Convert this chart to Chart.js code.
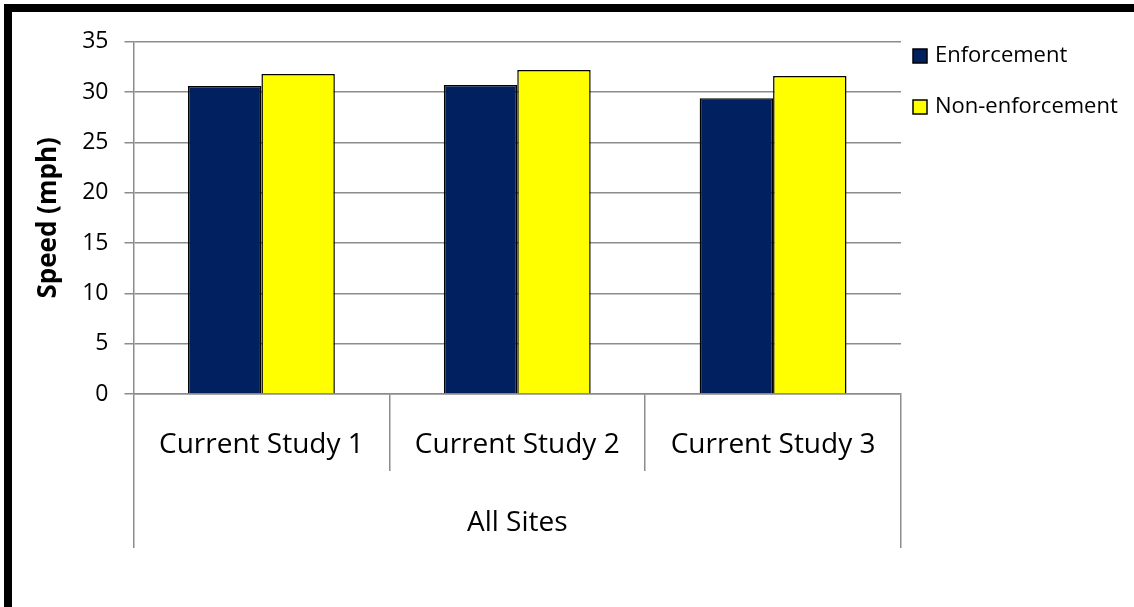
<!DOCTYPE html>
<html>
<head>
<meta charset="utf-8">
<script src="https://cdn.jsdelivr.net/npm/chart.js@4.4.0/dist/chart.umd.min.js"></script>
<style>
  body { margin: 0; background: #fff; }
  #moldura { position: absolute; left: 4px; top: 4px; width: 1130px; height: 603px; border-top: 8px solid #000; border-left: 8px solid #000; box-sizing: border-box; }
  #graficoVelocidade { position: absolute; left: 12px; top: 12px; }
</style>
</head>
<body>
<div id="moldura"></div>
<canvas id="graficoVelocidade" width="1122" height="595"></canvas>
<script>
// Dados
const estudos = ['Current Study 1', 'Current Study 2', 'Current Study 3'];
const grupoSites = ['All Sites'];
const enforcement = [30.6, 30.7, 29.4];
const nonEnforcement = [31.8, 32.2, 31.6];
const eixoY = { min: 0, max: 35, passo: 5 };

const fonte = 'Open Sans';
const cinza = '#8c8c8c';

// Legenda à direita, desenhada a partir dos datasets
const legendaDireita = {
    id: 'legendaDireita',
    afterDraw(chart) {
        const ctx = chart.ctx;
        const x = chart.chartArea.right + 12;
        ctx.save();
        ctx.font = '22px "' + fonte + '"';
        ctx.textBaseline = 'middle';
        chart.data.datasets.forEach((ds, i) => {
            const y = 44 + i * 51;
            ctx.fillStyle = ds.backgroundColor;
            ctx.fillRect(x, y - 7, 14, 14);
            ctx.lineWidth = 1.5;
            ctx.strokeStyle = '#000';
            ctx.strokeRect(x, y - 7, 14, 14);
            ctx.fillStyle = '#000';
            ctx.fillText(ds.label, x + 22, y);
        });
        ctx.restore();
    }
};

const ctxVel = document.getElementById('graficoVelocidade').getContext('2d');
const graficoVelocidade = new Chart(ctxVel, {
    type: 'bar',
    data: {
        labels: estudos,
        datasets: [{
            label: 'Enforcement',
            data: enforcement,
            backgroundColor: '#002060',
            borderColor: '#000',
            borderWidth: 1.5,
            categoryPercentage: 0.574,
            barPercentage: 1.0
        }, {
            label: 'Non-enforcement',
            data: nonEnforcement,
            backgroundColor: '#ffff00',
            borderColor: '#000',
            borderWidth: 1.5,
            categoryPercentage: 0.574,
            barPercentage: 1.0
        }]
    },
    options: {
        responsive: false,
        animation: false,
        layout: {
            padding: { left: 17, right: 233, top: 11, bottom: 59 }
        },
        plugins: {
            legend: { display: false },
            tooltip: { enabled: false }
        },
        scales: {
            y: {
                min: eixoY.min,
                max: eixoY.max,
                ticks: {
                    stepSize: eixoY.passo,
                    padding: 16,
                    color: '#000',
                    font: { family: fonte, size: 23 }
                },
                grid: { color: cinza, lineWidth: 1.5, tickLength: 9 },
                border: { color: cinza, width: 1.5 },
                title: {
                    display: true,
                    text: 'Speed (mph)',
                    color: '#000',
                    font: { family: fonte, size: 26, weight: 'bold' },
                    padding: { top: 4, bottom: 2 }
                }
            },
            // primeiro nível: estudos, rótulos entre as divisórias
            x: {
                weight: 0,
                ticks: {
                    padding: -26,
                    crossAlign: 'center',
                    maxRotation: 0,
                    color: '#000',
                    font: { family: fonte, size: 28, lineHeight: '52px' }
                },
                grid: { offset: true, drawOnChartArea: false, color: cinza, lineWidth: 1.5, tickLength: 77 },
                border: { color: cinza, width: 1.5 }
            },
            // segundo nível: grupo de sites
            x2: {
                type: 'category',
                position: 'bottom',
                weight: 1,
                labels: grupoSites,
                ticks: {
                    padding: -25,
                    crossAlign: 'center',
                    maxRotation: 0,
                    color: '#000',
                    font: { family: fonte, size: 28, lineHeight: '50px' }
                },
                grid: { offset: true, drawOnChartArea: false, color: cinza, lineWidth: 1.5, tickLength: 77 },
                border: { display: false }
            }
        }
    },
    plugins: [legendaDireita]
});
</script>
</body>
</html>
